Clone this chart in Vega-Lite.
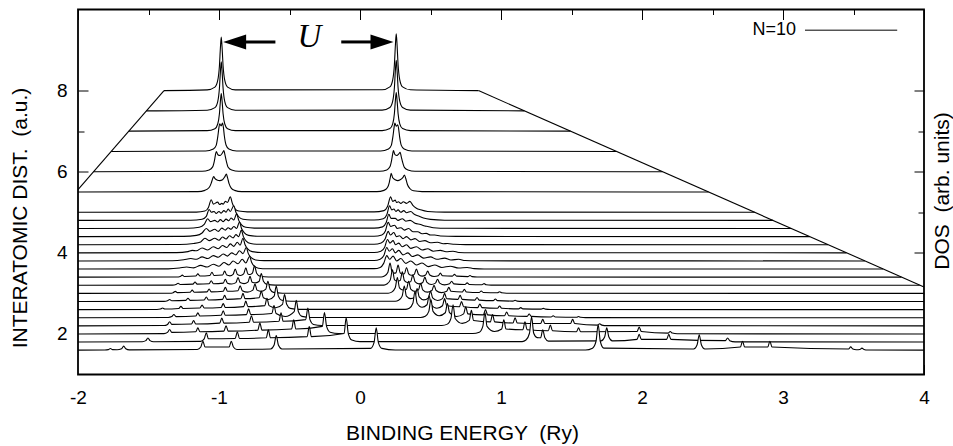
{
"$schema":"https://vega.github.io/schema/vega-lite/v6.json",
"autosize":"none","width":846,"height":365,
"padding":{"left":78,"top":9.5,"right":29,"bottom":71.5},
"background":"white",
"config":{"view":{"stroke":null},"axis":{"zindex":1,"grid":false,"domain":false,"tickColor":"black","tickWidth":1,"labelColor":"black","labelFont":"Liberation Sans","labelFontSize":19,"titleColor":"black","titleFont":"Liberation Sans","titleFontSize":21,"titleFontWeight":"normal"}},
"datasets":{"c":[
{"s":1,"x":-1.39,"y":8},{"s":1,"x":-1.084,"y":8.018},{"s":1,"x":-1.029,"y":8.087},{"s":1,"x":-1.009,"y":8.251},{"s":1,"x":-0.997,"y":8.607},{"s":1,"x":-0.99,"y":9.056},{"s":1,"x":-0.984,"y":9.32},{"s":1,"x":-0.978,"y":9.056},{"s":1,"x":-0.971,"y":8.607},{"s":1,"x":-0.959,"y":8.251},{"s":1,"x":-0.939,"y":8.087},{"s":1,"x":-0.884,"y":8.018},{"s":1,"x":0.157,"y":8.02},{"s":1,"x":0.212,"y":8.092},{"s":1,"x":0.232,"y":8.266},{"s":1,"x":0.244,"y":8.644},{"s":1,"x":0.251,"y":9.12},{"s":1,"x":0.257,"y":9.4},{"s":1,"x":0.263,"y":9.12},{"s":1,"x":0.27,"y":8.644},{"s":1,"x":0.282,"y":8.266},{"s":1,"x":0.302,"y":8.092},{"s":1,"x":0.357,"y":8.02},{"s":1,"x":0.84,"y":8},
{"s":2,"x":-1.515,"y":7.5},{"s":2,"x":-1.084,"y":7.517},{"s":2,"x":-1.029,"y":7.58},{"s":2,"x":-1.009,"y":7.73},{"s":2,"x":-0.997,"y":8.057},{"s":2,"x":-0.99,"y":8.468},{"s":2,"x":-0.984,"y":8.71},{"s":2,"x":-0.978,"y":8.468},{"s":2,"x":-0.971,"y":8.057},{"s":2,"x":-0.959,"y":7.73},{"s":2,"x":-0.939,"y":7.58},{"s":2,"x":-0.884,"y":7.517},{"s":2,"x":0.157,"y":7.518},{"s":2,"x":0.212,"y":7.583},{"s":2,"x":0.232,"y":7.738},{"s":2,"x":0.244,"y":8.075},{"s":2,"x":0.251,"y":8.5},{"s":2,"x":0.257,"y":8.75},{"s":2,"x":0.263,"y":8.5},{"s":2,"x":0.27,"y":8.075},{"s":2,"x":0.282,"y":7.738},{"s":2,"x":0.302,"y":7.583},{"s":2,"x":0.357,"y":7.518},{"s":2,"x":1.166,"y":7.5},
{"s":3,"x":-1.64,"y":7},{"s":3,"x":-1.084,"y":7.013},{"s":3,"x":-1.029,"y":7.061},{"s":3,"x":-1.009,"y":7.177},{"s":3,"x":-0.997,"y":7.428},{"s":3,"x":-0.99,"y":7.744},{"s":3,"x":-0.984,"y":7.93},{"s":3,"x":-0.978,"y":7.744},{"s":3,"x":-0.971,"y":7.428},{"s":3,"x":-0.959,"y":7.177},{"s":3,"x":-0.939,"y":7.061},{"s":3,"x":-0.884,"y":7.013},{"s":3,"x":0.157,"y":7.013},{"s":3,"x":0.212,"y":7.063},{"s":3,"x":0.232,"y":7.181},{"s":3,"x":0.244,"y":7.437},{"s":3,"x":0.251,"y":7.76},{"s":3,"x":0.257,"y":7.95},{"s":3,"x":0.263,"y":7.76},{"s":3,"x":0.27,"y":7.437},{"s":3,"x":0.282,"y":7.181},{"s":3,"x":0.302,"y":7.063},{"s":3,"x":0.357,"y":7.013},{"s":3,"x":1.493,"y":7},
{"s":4,"x":-1.765,"y":6.5},{"s":4,"x":-1.095,"y":6.512},{"s":4,"x":-1.04,"y":6.56},{"s":4,"x":-1.02,"y":6.65},{"s":4,"x":-1.008,"y":6.88},{"s":4,"x":-1.0,"y":7.1},{"s":4,"x":-0.995,"y":7.18},{"s":4,"x":-0.985,"y":7.13},{"s":4,"x":-0.975,"y":7.2},{"s":4,"x":-0.969,"y":7.1},{"s":4,"x":-0.962,"y":6.88},{"s":4,"x":-0.95,"y":6.66},{"s":4,"x":-0.93,"y":6.56},{"s":4,"x":-0.875,"y":6.512},{"s":4,"x":0.147,"y":6.512},{"s":4,"x":0.202,"y":6.56},{"s":4,"x":0.222,"y":6.65},{"s":4,"x":0.234,"y":6.88},{"s":4,"x":0.242,"y":7.1},{"s":4,"x":0.247,"y":7.2},{"s":4,"x":0.257,"y":7.12},{"s":4,"x":0.268,"y":7.16},{"s":4,"x":0.274,"y":7.06},{"s":4,"x":0.281,"y":6.86},{"s":4,"x":0.293,"y":6.65},{"s":4,"x":0.313,"y":6.56},{"s":4,"x":0.368,"y":6.512},{"s":4,"x":1.819,"y":6.5},
{"s":5,"x":-1.89,"y":6},{"s":5,"x":-1.12,"y":6.01},{"s":5,"x":-1.07,"y":6.045},{"s":5,"x":-1.045,"y":6.12},{"s":5,"x":-1.032,"y":6.28},{"s":5,"x":-1.025,"y":6.42},{"s":5,"x":-1.019,"y":6.5},{"s":5,"x":-1.008,"y":6.42},{"s":5,"x":-0.992,"y":6.4},{"s":5,"x":-0.978,"y":6.45},{"s":5,"x":-0.965,"y":6.52},{"s":5,"x":-0.958,"y":6.42},{"s":5,"x":-0.948,"y":6.26},{"s":5,"x":-0.935,"y":6.11},{"s":5,"x":-0.91,"y":6.04},{"s":5,"x":-0.86,"y":6.01},{"s":5,"x":0.14,"y":6.01},{"s":5,"x":0.19,"y":6.045},{"s":5,"x":0.212,"y":6.12},{"s":5,"x":0.224,"y":6.28},{"s":5,"x":0.231,"y":6.42},{"s":5,"x":0.237,"y":6.52},{"s":5,"x":0.248,"y":6.42},{"s":5,"x":0.262,"y":6.4},{"s":5,"x":0.275,"y":6.44},{"s":5,"x":0.285,"y":6.48},{"s":5,"x":0.292,"y":6.38},{"s":5,"x":0.302,"y":6.24},{"s":5,"x":0.316,"y":6.1},{"s":5,"x":0.34,"y":6.04},{"s":5,"x":0.39,"y":6.01},{"s":5,"x":2.145,"y":6},
{"s":6,"x":-2,"y":5.5},{"s":6,"x":-1.15,"y":5.51},{"s":6,"x":-1.1,"y":5.54},{"s":6,"x":-1.07,"y":5.61},{"s":6,"x":-1.055,"y":5.72},{"s":6,"x":-1.045,"y":5.83},{"s":6,"x":-1.038,"y":5.88},{"s":6,"x":-1.028,"y":5.83},{"s":6,"x":-1.01,"y":5.79},{"s":6,"x":-0.995,"y":5.78},{"s":6,"x":-0.975,"y":5.8},{"s":6,"x":-0.958,"y":5.88},{"s":6,"x":-0.948,"y":5.94},{"s":6,"x":-0.94,"y":5.86},{"s":6,"x":-0.928,"y":5.7},{"s":6,"x":-0.912,"y":5.59},{"s":6,"x":-0.89,"y":5.54},{"s":6,"x":-0.84,"y":5.51},{"s":6,"x":0.12,"y":5.51},{"s":6,"x":0.17,"y":5.54},{"s":6,"x":0.195,"y":5.61},{"s":6,"x":0.208,"y":5.74},{"s":6,"x":0.215,"y":5.86},{"s":6,"x":0.221,"y":5.96},{"s":6,"x":0.231,"y":5.86},{"s":6,"x":0.25,"y":5.8},{"s":6,"x":0.268,"y":5.78},{"s":6,"x":0.285,"y":5.8},{"s":6,"x":0.305,"y":5.86},{"s":6,"x":0.315,"y":5.92},{"s":6,"x":0.324,"y":5.84},{"s":6,"x":0.337,"y":5.68},{"s":6,"x":0.355,"y":5.58},{"s":6,"x":0.38,"y":5.53},{"s":6,"x":0.44,"y":5.51},{"s":6,"x":2.472,"y":5.5},
{"s":7,"x":-2,"y":5},{"s":7,"x":-1.16,"y":5.005},{"s":7,"x":-1.1,"y":5.03},{"s":7,"x":-1.075,"y":5.12},{"s":7,"x":-1.055,"y":5.31},{"s":7,"x":-1.04,"y":5.2},{"s":7,"x":-1.01,"y":5.25},{"s":7,"x":-0.995,"y":5.19},{"s":7,"x":-0.98,"y":5.22},{"s":7,"x":-0.97,"y":5.2},{"s":7,"x":-0.955,"y":5.27},{"s":7,"x":-0.94,"y":5.24},{"s":7,"x":-0.92,"y":5.38},{"s":7,"x":-0.905,"y":5.22},{"s":7,"x":-0.89,"y":5.1},{"s":7,"x":-0.86,"y":5.03},{"s":7,"x":-0.8,"y":5.01},{"s":7,"x":0.1,"y":5.01},{"s":7,"x":0.17,"y":5.04},{"s":7,"x":0.195,"y":5.14},{"s":7,"x":0.217,"y":5.38},{"s":7,"x":0.232,"y":5.27},{"s":7,"x":0.25,"y":5.3},{"s":7,"x":0.26,"y":5.24},{"s":7,"x":0.272,"y":5.26},{"s":7,"x":0.29,"y":5.22},{"s":7,"x":0.307,"y":5.26},{"s":7,"x":0.33,"y":5.22},{"s":7,"x":0.354,"y":5.27},{"s":7,"x":0.375,"y":5.17},{"s":7,"x":0.4,"y":5.1},{"s":7,"x":0.43,"y":5.06},{"s":7,"x":0.48,"y":5.02},{"s":7,"x":0.6,"y":5.005},{"s":7,"x":2.8,"y":5},
{"s":8,"x":-2,"y":4.8},{"s":8,"x":-1.2,"y":4.805},{"s":8,"x":-1.12,"y":4.83},{"s":8,"x":-1.09,"y":4.9},{"s":8,"x":-1.07,"y":5.07},{"s":8,"x":-1.055,"y":5.0},{"s":8,"x":-1.035,"y":5.02},{"s":8,"x":-1.02,"y":4.97},{"s":8,"x":-1.0,"y":5.02},{"s":8,"x":-0.985,"y":4.98},{"s":8,"x":-0.965,"y":5.04},{"s":8,"x":-0.95,"y":5.0},{"s":8,"x":-0.935,"y":5.08},{"s":8,"x":-0.92,"y":5.02},{"s":8,"x":-0.895,"y":5.16},{"s":8,"x":-0.88,"y":5.0},{"s":8,"x":-0.86,"y":4.89},{"s":8,"x":-0.83,"y":4.83},{"s":8,"x":-0.77,"y":4.81},{"s":8,"x":0.1,"y":4.81},{"s":8,"x":0.165,"y":4.84},{"s":8,"x":0.19,"y":4.94},{"s":8,"x":0.21,"y":5.16},{"s":8,"x":0.225,"y":5.06},{"s":8,"x":0.24,"y":5.08},{"s":8,"x":0.255,"y":5.02},{"s":8,"x":0.27,"y":5.06},{"s":8,"x":0.29,"y":5.0},{"s":8,"x":0.31,"y":5.04},{"s":8,"x":0.33,"y":4.99},{"s":8,"x":0.36,"y":5.02},{"s":8,"x":0.385,"y":4.95},{"s":8,"x":0.42,"y":4.9},{"s":8,"x":0.45,"y":4.86},{"s":8,"x":0.5,"y":4.825},{"s":8,"x":0.6,"y":4.805},{"s":8,"x":2.93,"y":4.8},
{"s":9,"x":-2,"y":4.6},{"s":9,"x":-1.22,"y":4.605},{"s":9,"x":-1.14,"y":4.63},{"s":9,"x":-1.105,"y":4.7},{"s":9,"x":-1.08,"y":4.84},{"s":9,"x":-1.06,"y":4.77},{"s":9,"x":-1.03,"y":4.8},{"s":9,"x":-1.01,"y":4.76},{"s":9,"x":-0.99,"y":4.82},{"s":9,"x":-0.97,"y":4.77},{"s":9,"x":-0.95,"y":4.83},{"s":9,"x":-0.93,"y":4.79},{"s":9,"x":-0.915,"y":4.86},{"s":9,"x":-0.895,"y":4.81},{"s":9,"x":-0.875,"y":4.96},{"s":9,"x":-0.86,"y":4.8},{"s":9,"x":-0.84,"y":4.69},{"s":9,"x":-0.81,"y":4.63},{"s":9,"x":-0.75,"y":4.61},{"s":9,"x":0.1,"y":4.61},{"s":9,"x":0.16,"y":4.64},{"s":9,"x":0.185,"y":4.74},{"s":9,"x":0.205,"y":4.95},{"s":9,"x":0.22,"y":4.85},{"s":9,"x":0.25,"y":4.85},{"s":9,"x":0.27,"y":4.8},{"s":9,"x":0.3,"y":4.84},{"s":9,"x":0.325,"y":4.78},{"s":9,"x":0.355,"y":4.8},{"s":9,"x":0.39,"y":4.73},{"s":9,"x":0.43,"y":4.7},{"s":9,"x":0.46,"y":4.66},{"s":9,"x":0.48,"y":4.65},{"s":9,"x":0.52,"y":4.62},{"s":9,"x":0.62,"y":4.605},{"s":9,"x":3.06,"y":4.6},
{"s":10,"x":-2,"y":4.4},{"s":10,"x":-1.25,"y":4.405},{"s":10,"x":-1.16,"y":4.43},{"s":10,"x":-1.12,"y":4.49},{"s":10,"x":-1.09,"y":4.6},{"s":10,"x":-1.065,"y":4.53},{"s":10,"x":-1.03,"y":4.58},{"s":10,"x":-1.005,"y":4.53},{"s":10,"x":-0.98,"y":4.61},{"s":10,"x":-0.955,"y":4.56},{"s":10,"x":-0.935,"y":4.62},{"s":10,"x":-0.915,"y":4.58},{"s":10,"x":-0.895,"y":4.65},{"s":10,"x":-0.875,"y":4.6},{"s":10,"x":-0.855,"y":4.76},{"s":10,"x":-0.84,"y":4.6},{"s":10,"x":-0.82,"y":4.49},{"s":10,"x":-0.79,"y":4.43},{"s":10,"x":-0.73,"y":4.41},{"s":10,"x":0.1,"y":4.41},{"s":10,"x":0.155,"y":4.44},{"s":10,"x":0.18,"y":4.54},{"s":10,"x":0.2,"y":4.75},{"s":10,"x":0.218,"y":4.65},{"s":10,"x":0.245,"y":4.68},{"s":10,"x":0.265,"y":4.6},{"s":10,"x":0.29,"y":4.62},{"s":10,"x":0.315,"y":4.56},{"s":10,"x":0.345,"y":4.6},{"s":10,"x":0.375,"y":4.52},{"s":10,"x":0.41,"y":4.52},{"s":10,"x":0.44,"y":4.47},{"s":10,"x":0.47,"y":4.48},{"s":10,"x":0.5,"y":4.44},{"s":10,"x":0.53,"y":4.44},{"s":10,"x":0.57,"y":4.415},{"s":10,"x":0.68,"y":4.405},{"s":10,"x":3.19,"y":4.4},
{"s":11,"x":-2,"y":4.2},{"s":11,"x":-1.28,"y":4.205},{"s":11,"x":-1.18,"y":4.23},{"s":11,"x":-1.13,"y":4.27},{"s":11,"x":-1.1,"y":4.36},{"s":11,"x":-1.07,"y":4.3},{"s":11,"x":-1.03,"y":4.36},{"s":11,"x":-1.0,"y":4.31},{"s":11,"x":-0.975,"y":4.39},{"s":11,"x":-0.95,"y":4.34},{"s":11,"x":-0.925,"y":4.42},{"s":11,"x":-0.9,"y":4.37},{"s":11,"x":-0.88,"y":4.45},{"s":11,"x":-0.86,"y":4.4},{"s":11,"x":-0.842,"y":4.56},{"s":11,"x":-0.827,"y":4.4},{"s":11,"x":-0.807,"y":4.29},{"s":11,"x":-0.775,"y":4.23},{"s":11,"x":-0.72,"y":4.21},{"s":11,"x":0.1,"y":4.21},{"s":11,"x":0.15,"y":4.24},{"s":11,"x":0.178,"y":4.34},{"s":11,"x":0.2,"y":4.53},{"s":11,"x":0.215,"y":4.44},{"s":11,"x":0.24,"y":4.5},{"s":11,"x":0.258,"y":4.4},{"s":11,"x":0.28,"y":4.42},{"s":11,"x":0.305,"y":4.35},{"s":11,"x":0.33,"y":4.4},{"s":11,"x":0.36,"y":4.32},{"s":11,"x":0.39,"y":4.35},{"s":11,"x":0.425,"y":4.28},{"s":11,"x":0.46,"y":4.3},{"s":11,"x":0.5,"y":4.25},{"s":11,"x":0.55,"y":4.26},{"s":11,"x":0.59,"y":4.225},{"s":11,"x":0.62,"y":4.23},{"s":11,"x":0.67,"y":4.21},{"s":11,"x":0.75,"y":4.203},{"s":11,"x":3.32,"y":4.2},
{"s":12,"x":-2,"y":4},{"s":12,"x":-1.3,"y":4.005},{"s":12,"x":-1.22,"y":4.03},{"s":12,"x":-1.19,"y":4.06},{"s":12,"x":-1.16,"y":4.05},{"s":12,"x":-1.12,"y":4.12},{"s":12,"x":-1.08,"y":4.07},{"s":12,"x":-1.04,"y":4.15},{"s":12,"x":-1.005,"y":4.1},{"s":12,"x":-0.975,"y":4.18},{"s":12,"x":-0.945,"y":4.13},{"s":12,"x":-0.92,"y":4.22},{"s":12,"x":-0.895,"y":4.16},{"s":12,"x":-0.87,"y":4.26},{"s":12,"x":-0.85,"y":4.19},{"s":12,"x":-0.83,"y":4.36},{"s":12,"x":-0.815,"y":4.2},{"s":12,"x":-0.795,"y":4.09},{"s":12,"x":-0.765,"y":4.03},{"s":12,"x":-0.7,"y":4.01},{"s":12,"x":0.1,"y":4.01},{"s":12,"x":0.148,"y":4.04},{"s":12,"x":0.175,"y":4.14},{"s":12,"x":0.195,"y":4.33},{"s":12,"x":0.212,"y":4.24},{"s":12,"x":0.235,"y":4.3},{"s":12,"x":0.252,"y":4.2},{"s":12,"x":0.275,"y":4.24},{"s":12,"x":0.3,"y":4.15},{"s":12,"x":0.33,"y":4.2},{"s":12,"x":0.36,"y":4.11},{"s":12,"x":0.4,"y":4.15},{"s":12,"x":0.44,"y":4.07},{"s":12,"x":0.48,"y":4.1},{"s":12,"x":0.52,"y":4.04},{"s":12,"x":0.57,"y":4.06},{"s":12,"x":0.61,"y":4.025},{"s":12,"x":0.66,"y":4.04},{"s":12,"x":0.7,"y":4.01},{"s":12,"x":0.78,"y":4.003},{"s":12,"x":3.45,"y":4},
{"s":13,"x":-2,"y":3.8},{"s":13,"x":-1.33,"y":3.805},{"s":13,"x":-1.25,"y":3.83},{"s":13,"x":-1.2,"y":3.86},{"s":13,"x":-1.16,"y":3.84},{"s":13,"x":-1.12,"y":3.9},{"s":13,"x":-1.08,"y":3.86},{"s":13,"x":-1.04,"y":3.93},{"s":13,"x":-1.005,"y":3.89},{"s":13,"x":-0.97,"y":3.97},{"s":13,"x":-0.94,"y":3.92},{"s":13,"x":-0.91,"y":4.0},{"s":13,"x":-0.88,"y":3.95},{"s":13,"x":-0.855,"y":4.05},{"s":13,"x":-0.83,"y":3.98},{"s":13,"x":-0.807,"y":4.13},{"s":13,"x":-0.792,"y":3.98},{"s":13,"x":-0.772,"y":3.88},{"s":13,"x":-0.74,"y":3.825},{"s":13,"x":-0.68,"y":3.808},{"s":13,"x":0.1,"y":3.81},{"s":13,"x":0.143,"y":3.84},{"s":13,"x":0.17,"y":3.94},{"s":13,"x":0.19,"y":4.13},{"s":13,"x":0.207,"y":4.04},{"s":13,"x":0.23,"y":4.1},{"s":13,"x":0.25,"y":4.0},{"s":13,"x":0.275,"y":4.06},{"s":13,"x":0.305,"y":3.95},{"s":13,"x":0.34,"y":4.0},{"s":13,"x":0.37,"y":3.91},{"s":13,"x":0.41,"y":3.95},{"s":13,"x":0.45,"y":3.87},{"s":13,"x":0.5,"y":3.9},{"s":13,"x":0.545,"y":3.84},{"s":13,"x":0.6,"y":3.87},{"s":13,"x":0.645,"y":3.825},{"s":13,"x":0.7,"y":3.84},{"s":13,"x":0.745,"y":3.81},{"s":13,"x":0.82,"y":3.803},{"s":13,"x":3.58,"y":3.8},
{"s":14,"x":-2,"y":3.6},{"s":14,"x":-1.36,"y":3.605},{"s":14,"x":-1.28,"y":3.625},{"s":14,"x":-1.23,"y":3.65},{"s":14,"x":-1.18,"y":3.63},{"s":14,"x":-1.13,"y":3.69},{"s":14,"x":-1.085,"y":3.65},{"s":14,"x":-1.04,"y":3.72},{"s":14,"x":-1.0,"y":3.67},{"s":14,"x":-0.965,"y":3.76},{"s":14,"x":-0.93,"y":3.7},{"s":14,"x":-0.9,"y":3.8},{"s":14,"x":-0.865,"y":3.73},{"s":14,"x":-0.835,"y":3.84},{"s":14,"x":-0.81,"y":3.75},{"s":14,"x":-0.783,"y":3.91},{"s":14,"x":-0.768,"y":3.76},{"s":14,"x":-0.75,"y":3.67},{"s":14,"x":-0.72,"y":3.62},{"s":14,"x":-0.66,"y":3.606},{"s":14,"x":0.1,"y":3.61},{"s":14,"x":0.143,"y":3.64},{"s":14,"x":0.168,"y":3.74},{"s":14,"x":0.19,"y":3.93},{"s":14,"x":0.21,"y":3.84},{"s":14,"x":0.235,"y":3.92},{"s":14,"x":0.26,"y":3.8},{"s":14,"x":0.29,"y":3.86},{"s":14,"x":0.325,"y":3.74},{"s":14,"x":0.36,"y":3.8},{"s":14,"x":0.4,"y":3.7},{"s":14,"x":0.44,"y":3.75},{"s":14,"x":0.485,"y":3.66},{"s":14,"x":0.53,"y":3.7},{"s":14,"x":0.58,"y":3.64},{"s":14,"x":0.64,"y":3.67},{"s":14,"x":0.7,"y":3.625},{"s":14,"x":0.76,"y":3.64},{"s":14,"x":0.81,"y":3.61},{"s":14,"x":0.88,"y":3.603},{"s":14,"x":3.71,"y":3.6},
{"s":15,"x":-2,"y":3.4},{"s":15,"x":-1.3,"y":3.404},{"s":15,"x":-1.275,"y":3.418},{"s":15,"x":-1.26,"y":3.45},{"s":15,"x":-1.245,"y":3.418},{"s":15,"x":-1.165,"y":3.428},{"s":15,"x":-1.15,"y":3.48},{"s":15,"x":-1.135,"y":3.428},{"s":15,"x":-1.065,"y":3.442},{"s":15,"x":-1.05,"y":3.52},{"s":15,"x":-1.035,"y":3.442},{"s":15,"x":-0.975,"y":3.452},{"s":15,"x":-0.96,"y":3.55},{"s":15,"x":-0.945,"y":3.452},{"s":15,"x":-0.9225,"y":3.433},{"s":15,"x":-0.9,"y":3.47},{"s":15,"x":-0.885,"y":3.6},{"s":15,"x":-0.87,"y":3.47},{"s":15,"x":-0.8475,"y":3.44},{"s":15,"x":-0.825,"y":3.48},{"s":15,"x":-0.81,"y":3.63},{"s":15,"x":-0.795,"y":3.48},{"s":15,"x":-0.779,"y":3.466},{"s":15,"x":-0.763,"y":3.498},{"s":15,"x":-0.748,"y":3.68},{"s":15,"x":-0.733,"y":3.498},{"s":15,"x":-0.708,"y":3.422},{"s":15,"x":-0.65,"y":3.405},{"s":15,"x":0.15,"y":3.405},{"s":15,"x":0.173,"y":3.428},{"s":15,"x":0.198,"y":3.523},{"s":15,"x":0.213,"y":3.75},{"s":15,"x":0.228,"y":3.523},{"s":15,"x":0.2415,"y":3.5},{"s":15,"x":0.255,"y":3.505},{"s":15,"x":0.27,"y":3.7},{"s":15,"x":0.285,"y":3.505},{"s":15,"x":0.3,"y":3.475},{"s":15,"x":0.315,"y":3.484},{"s":15,"x":0.33,"y":3.64},{"s":15,"x":0.345,"y":3.484},{"s":15,"x":0.365,"y":3.446},{"s":15,"x":0.385,"y":3.47},{"s":15,"x":0.4,"y":3.6},{"s":15,"x":0.415,"y":3.47},{"s":15,"x":0.44,"y":3.425},{"s":15,"x":0.465,"y":3.452},{"s":15,"x":0.48,"y":3.55},{"s":15,"x":0.495,"y":3.452},{"s":15,"x":0.525,"y":3.416},{"s":15,"x":0.555,"y":3.435},{"s":15,"x":0.57,"y":3.5},{"s":15,"x":0.585,"y":3.435},{"s":15,"x":0.655,"y":3.425},{"s":15,"x":0.67,"y":3.47},{"s":15,"x":0.685,"y":3.425},{"s":15,"x":0.765,"y":3.414},{"s":15,"x":0.78,"y":3.44},{"s":15,"x":0.795,"y":3.414},{"s":15,"x":0.83,"y":3.403},{"s":15,"x":3.84,"y":3.4},
{"s":16,"x":-2,"y":3.2},{"s":16,"x":-1.33,"y":3.204},{"s":16,"x":-1.305,"y":3.218},{"s":16,"x":-1.29,"y":3.25},{"s":16,"x":-1.275,"y":3.218},{"s":16,"x":-1.185,"y":3.228},{"s":16,"x":-1.17,"y":3.28},{"s":16,"x":-1.155,"y":3.228},{"s":16,"x":-1.07,"y":3.238},{"s":16,"x":-1.055,"y":3.31},{"s":16,"x":-1.04,"y":3.238},{"s":16,"x":-0.97,"y":3.252},{"s":16,"x":-0.955,"y":3.35},{"s":16,"x":-0.94,"y":3.252},{"s":16,"x":-0.91,"y":3.232},{"s":16,"x":-0.88,"y":3.266},{"s":16,"x":-0.865,"y":3.39},{"s":16,"x":-0.85,"y":3.266},{"s":16,"x":-0.8225,"y":3.24},{"s":16,"x":-0.795,"y":3.277},{"s":16,"x":-0.78,"y":3.42},{"s":16,"x":-0.765,"y":3.277},{"s":16,"x":-0.74,"y":3.26},{"s":16,"x":-0.715,"y":3.3},{"s":16,"x":-0.7,"y":3.49},{"s":16,"x":-0.685,"y":3.3},{"s":16,"x":-0.66,"y":3.223},{"s":16,"x":-0.6,"y":3.205},{"s":16,"x":0.17,"y":3.205},{"s":16,"x":0.19,"y":3.23},{"s":16,"x":0.215,"y":3.333},{"s":16,"x":0.23,"y":3.58},{"s":16,"x":0.245,"y":3.333},{"s":16,"x":0.265,"y":3.3},{"s":16,"x":0.285,"y":3.315},{"s":16,"x":0.3,"y":3.53},{"s":16,"x":0.315,"y":3.315},{"s":16,"x":0.3375,"y":3.27},{"s":16,"x":0.36,"y":3.29},{"s":16,"x":0.375,"y":3.46},{"s":16,"x":0.39,"y":3.29},{"s":16,"x":0.4175,"y":3.235},{"s":16,"x":0.445,"y":3.27},{"s":16,"x":0.46,"y":3.4},{"s":16,"x":0.475,"y":3.27},{"s":16,"x":0.505,"y":3.22},{"s":16,"x":0.535,"y":3.253},{"s":16,"x":0.55,"y":3.35},{"s":16,"x":0.565,"y":3.253},{"s":16,"x":0.6,"y":3.21},{"s":16,"x":0.635,"y":3.235},{"s":16,"x":0.65,"y":3.3},{"s":16,"x":0.665,"y":3.235},{"s":16,"x":0.745,"y":3.221},{"s":16,"x":0.76,"y":3.26},{"s":16,"x":0.775,"y":3.221},{"s":16,"x":0.865,"y":3.214},{"s":16,"x":0.88,"y":3.24},{"s":16,"x":0.895,"y":3.214},{"s":16,"x":0.93,"y":3.203},{"s":16,"x":3.97,"y":3.2},
{"s":17,"x":-2,"y":3},{"s":17,"x":-1.35,"y":3.004},{"s":17,"x":-1.325,"y":3.018},{"s":17,"x":-1.31,"y":3.05},{"s":17,"x":-1.295,"y":3.018},{"s":17,"x":-1.205,"y":3.028},{"s":17,"x":-1.19,"y":3.08},{"s":17,"x":-1.175,"y":3.028},{"s":17,"x":-1.085,"y":3.038},{"s":17,"x":-1.07,"y":3.11},{"s":17,"x":-1.055,"y":3.038},{"s":17,"x":-0.97,"y":3.052},{"s":17,"x":-0.955,"y":3.15},{"s":17,"x":-0.94,"y":3.052},{"s":17,"x":-0.865,"y":3.066},{"s":17,"x":-0.85,"y":3.19},{"s":17,"x":-0.835,"y":3.066},{"s":17,"x":-0.7975,"y":3.03},{"s":17,"x":-0.76,"y":3.08},{"s":17,"x":-0.745,"y":3.23},{"s":17,"x":-0.73,"y":3.08},{"s":17,"x":-0.7,"y":3.05},{"s":17,"x":-0.668,"y":3.105},{"s":17,"x":-0.653,"y":3.3},{"s":17,"x":-0.638,"y":3.105},{"s":17,"x":-0.613,"y":3.024},{"s":17,"x":-0.55,"y":3.005},{"s":17,"x":0.2,"y":3.005},{"s":17,"x":0.225,"y":3.031},{"s":17,"x":0.25,"y":3.137},{"s":17,"x":0.265,"y":3.39},{"s":17,"x":0.28,"y":3.137},{"s":17,"x":0.305,"y":3.085},{"s":17,"x":0.33,"y":3.105},{"s":17,"x":0.345,"y":3.3},{"s":17,"x":0.36,"y":3.105},{"s":17,"x":0.3875,"y":3.05},{"s":17,"x":0.415,"y":3.088},{"s":17,"x":0.43,"y":3.25},{"s":17,"x":0.445,"y":3.088},{"s":17,"x":0.4775,"y":3.03},{"s":17,"x":0.51,"y":3.07},{"s":17,"x":0.525,"y":3.2},{"s":17,"x":0.54,"y":3.07},{"s":17,"x":0.5775,"y":3.018},{"s":17,"x":0.615,"y":3.053},{"s":17,"x":0.63,"y":3.15},{"s":17,"x":0.645,"y":3.053},{"s":17,"x":0.725,"y":3.035},{"s":17,"x":0.74,"y":3.1},{"s":17,"x":0.755,"y":3.035},{"s":17,"x":0.845,"y":3.021},{"s":17,"x":0.86,"y":3.06},{"s":17,"x":0.875,"y":3.021},{"s":17,"x":0.975,"y":3.014},{"s":17,"x":0.99,"y":3.04},{"s":17,"x":1.005,"y":3.014},{"s":17,"x":1.04,"y":3.003},{"s":17,"x":4,"y":3},
{"s":18,"x":-2,"y":2.8},{"s":18,"x":-1.39,"y":2.804},{"s":18,"x":-1.365,"y":2.818},{"s":18,"x":-1.35,"y":2.85},{"s":18,"x":-1.335,"y":2.818},{"s":18,"x":-1.235,"y":2.828},{"s":18,"x":-1.22,"y":2.88},{"s":18,"x":-1.205,"y":2.828},{"s":18,"x":-1.105,"y":2.838},{"s":18,"x":-1.09,"y":2.91},{"s":18,"x":-1.075,"y":2.838},{"s":18,"x":-0.975,"y":2.852},{"s":18,"x":-0.96,"y":2.95},{"s":18,"x":-0.945,"y":2.852},{"s":18,"x":-0.845,"y":2.87},{"s":18,"x":-0.83,"y":3.0},{"s":18,"x":-0.815,"y":2.87},{"s":18,"x":-0.715,"y":2.891},{"s":18,"x":-0.7,"y":3.06},{"s":18,"x":-0.685,"y":2.891},{"s":18,"x":-0.647,"y":2.85},{"s":18,"x":-0.609,"y":2.933},{"s":18,"x":-0.594,"y":3.18},{"s":18,"x":-0.579,"y":2.933},{"s":18,"x":-0.554,"y":2.83},{"s":18,"x":-0.49,"y":2.806},{"s":18,"x":0.25,"y":2.806},{"s":18,"x":0.274,"y":2.83},{"s":18,"x":0.299,"y":2.933},{"s":18,"x":0.314,"y":3.18},{"s":18,"x":0.329,"y":2.933},{"s":18,"x":0.36,"y":2.87},{"s":18,"x":0.39,"y":2.912},{"s":18,"x":0.405,"y":3.12},{"s":18,"x":0.42,"y":2.912},{"s":18,"x":0.4525,"y":2.84},{"s":18,"x":0.485,"y":2.891},{"s":18,"x":0.5,"y":3.06},{"s":18,"x":0.515,"y":2.891},{"s":18,"x":0.55,"y":2.826},{"s":18,"x":0.585,"y":2.87},{"s":18,"x":0.6,"y":3.0},{"s":18,"x":0.615,"y":2.87},{"s":18,"x":0.695,"y":2.853},{"s":18,"x":0.71,"y":2.95},{"s":18,"x":0.725,"y":2.853},{"s":18,"x":0.815,"y":2.835},{"s":18,"x":0.83,"y":2.9},{"s":18,"x":0.845,"y":2.835},{"s":18,"x":0.945,"y":2.821},{"s":18,"x":0.96,"y":2.86},{"s":18,"x":0.975,"y":2.821},{"s":18,"x":1.085,"y":2.81},{"s":18,"x":1.1,"y":2.83},{"s":18,"x":1.115,"y":2.81},{"s":18,"x":1.15,"y":2.802},{"s":18,"x":4,"y":2.8},
{"s":19,"x":-2,"y":2.6},{"s":19,"x":-1.44,"y":2.603},{"s":19,"x":-1.415,"y":2.614},{"s":19,"x":-1.4,"y":2.64},{"s":19,"x":-1.385,"y":2.614},{"s":19,"x":-1.285,"y":2.628},{"s":19,"x":-1.27,"y":2.68},{"s":19,"x":-1.255,"y":2.628},{"s":19,"x":-1.135,"y":2.638},{"s":19,"x":-1.12,"y":2.71},{"s":19,"x":-1.105,"y":2.638},{"s":19,"x":-0.985,"y":2.652},{"s":19,"x":-0.97,"y":2.75},{"s":19,"x":-0.955,"y":2.652},{"s":19,"x":-0.825,"y":2.674},{"s":19,"x":-0.81,"y":2.81},{"s":19,"x":-0.795,"y":2.674},{"s":19,"x":-0.675,"y":2.698},{"s":19,"x":-0.66,"y":2.88},{"s":19,"x":-0.645,"y":2.698},{"s":19,"x":-0.5975,"y":2.645},{"s":19,"x":-0.55,"y":2.73},{"s":19,"x":-0.535,"y":2.97},{"s":19,"x":-0.52,"y":2.73},{"s":19,"x":-0.495,"y":2.63},{"s":19,"x":-0.43,"y":2.606},{"s":19,"x":0.32,"y":2.606},{"s":19,"x":0.35,"y":2.636},{"s":19,"x":0.375,"y":2.758},{"s":19,"x":0.39,"y":3.05},{"s":19,"x":0.405,"y":2.758},{"s":19,"x":0.44,"y":2.66},{"s":19,"x":0.475,"y":2.72},{"s":19,"x":0.49,"y":2.94},{"s":19,"x":0.505,"y":2.72},{"s":19,"x":0.545,"y":2.632},{"s":19,"x":0.585,"y":2.695},{"s":19,"x":0.6,"y":2.87},{"s":19,"x":0.615,"y":2.695},{"s":19,"x":0.705,"y":2.67},{"s":19,"x":0.72,"y":2.8},{"s":19,"x":0.735,"y":2.67},{"s":19,"x":0.835,"y":2.649},{"s":19,"x":0.85,"y":2.74},{"s":19,"x":0.865,"y":2.649},{"s":19,"x":0.975,"y":2.632},{"s":19,"x":0.99,"y":2.69},{"s":19,"x":1.005,"y":2.632},{"s":19,"x":1.125,"y":2.618},{"s":19,"x":1.14,"y":2.65},{"s":19,"x":1.155,"y":2.618},{"s":19,"x":1.285,"y":2.611},{"s":19,"x":1.3,"y":2.63},{"s":19,"x":1.315,"y":2.611},{"s":19,"x":1.35,"y":2.602},{"s":19,"x":4,"y":2.6},
{"s":20,"x":-2,"y":2.4},{"s":20,"x":-1.36,"y":2.406},{"s":20,"x":-1.335,"y":2.428},{"s":20,"x":-1.32,"y":2.48},{"s":20,"x":-1.305,"y":2.428},{"s":20,"x":-1.165,"y":2.442},{"s":20,"x":-1.15,"y":2.52},{"s":20,"x":-1.135,"y":2.442},{"s":20,"x":-0.985,"y":2.46},{"s":20,"x":-0.97,"y":2.57},{"s":20,"x":-0.955,"y":2.46},{"s":20,"x":-0.805,"y":2.477},{"s":20,"x":-0.79,"y":2.62},{"s":20,"x":-0.775,"y":2.477},{"s":20,"x":-0.625,"y":2.505},{"s":20,"x":-0.61,"y":2.7},{"s":20,"x":-0.595,"y":2.505},{"s":20,"x":-0.531,"y":2.43},{"s":20,"x":-0.467,"y":2.55},{"s":20,"x":-0.452,"y":2.83},{"s":20,"x":-0.437,"y":2.55},{"s":20,"x":-0.412,"y":2.434},{"s":20,"x":-0.35,"y":2.407},{"s":20,"x":0.43,"y":2.407},{"s":20,"x":0.463,"y":2.436},{"s":20,"x":0.488,"y":2.558},{"s":20,"x":0.503,"y":2.85},{"s":20,"x":0.518,"y":2.558},{"s":20,"x":0.5615,"y":2.45},{"s":20,"x":0.605,"y":2.523},{"s":20,"x":0.62,"y":2.75},{"s":20,"x":0.635,"y":2.523},{"s":20,"x":0.685,"y":2.43},{"s":20,"x":0.735,"y":2.495},{"s":20,"x":0.75,"y":2.67},{"s":20,"x":0.765,"y":2.495},{"s":20,"x":0.875,"y":2.47},{"s":20,"x":0.89,"y":2.6},{"s":20,"x":0.905,"y":2.47},{"s":20,"x":1.025,"y":2.449},{"s":20,"x":1.04,"y":2.54},{"s":20,"x":1.055,"y":2.449},{"s":20,"x":1.185,"y":2.432},{"s":20,"x":1.2,"y":2.49},{"s":20,"x":1.215,"y":2.432},{"s":20,"x":1.355,"y":2.418},{"s":20,"x":1.37,"y":2.45},{"s":20,"x":1.385,"y":2.418},{"s":20,"x":1.535,"y":2.41},{"s":20,"x":1.55,"y":2.43},{"s":20,"x":1.565,"y":2.41},{"s":20,"x":1.6,"y":2.402},{"s":20,"x":4,"y":2.4},
{"s":21,"x":-2,"y":2.2},{"s":21,"x":-1.39,"y":2.208},{"s":21,"x":-1.365,"y":2.235},{"s":21,"x":-1.35,"y":2.3},{"s":21,"x":-1.335,"y":2.235},{"s":21,"x":-1.195,"y":2.245},{"s":21,"x":-1.18,"y":2.33},{"s":21,"x":-1.165,"y":2.245},{"s":21,"x":-0.995,"y":2.267},{"s":21,"x":-0.98,"y":2.39},{"s":21,"x":-0.965,"y":2.267},{"s":21,"x":-0.785,"y":2.288},{"s":21,"x":-0.77,"y":2.45},{"s":21,"x":-0.755,"y":2.288},{"s":21,"x":-0.575,"y":2.312},{"s":21,"x":-0.56,"y":2.52},{"s":21,"x":-0.545,"y":2.312},{"s":21,"x":-0.385,"y":2.354},{"s":21,"x":-0.37,"y":2.64},{"s":21,"x":-0.355,"y":2.354},{"s":21,"x":-0.33,"y":2.235},{"s":21,"x":-0.27,"y":2.207},{"s":21,"x":0.58,"y":2.207},{"s":21,"x":0.62,"y":2.242},{"s":21,"x":0.645,"y":2.382},{"s":21,"x":0.66,"y":2.72},{"s":21,"x":0.675,"y":2.382},{"s":21,"x":0.725,"y":2.26},{"s":21,"x":0.775,"y":2.333},{"s":21,"x":0.79,"y":2.58},{"s":21,"x":0.805,"y":2.333},{"s":21,"x":0.925,"y":2.298},{"s":21,"x":0.94,"y":2.48},{"s":21,"x":0.955,"y":2.298},{"s":21,"x":1.085,"y":2.27},{"s":21,"x":1.1,"y":2.4},{"s":21,"x":1.115,"y":2.27},{"s":21,"x":1.281,"y":2.256},{"s":21,"x":1.296,"y":2.36},{"s":21,"x":1.311,"y":2.256},{"s":21,"x":1.493,"y":2.256},{"s":21,"x":1.508,"y":2.36},{"s":21,"x":1.523,"y":2.256},{"s":21,"x":1.685,"y":2.218},{"s":21,"x":1.7,"y":2.25},{"s":21,"x":1.715,"y":2.218},{"s":21,"x":1.75,"y":2.204},{"s":21,"x":4,"y":2.2},
{"s":22,"x":-2,"y":2},{"s":22,"x":-1.39,"y":2.009},{"s":22,"x":-1.365,"y":2.039},{"s":22,"x":-1.35,"y":2.11},{"s":22,"x":-1.335,"y":2.039},{"s":22,"x":-1.165,"y":2.053},{"s":22,"x":-1.15,"y":2.15},{"s":22,"x":-1.135,"y":2.053},{"s":22,"x":-0.965,"y":2.07},{"s":22,"x":-0.95,"y":2.2},{"s":22,"x":-0.935,"y":2.07},{"s":22,"x":-0.725,"y":2.095},{"s":22,"x":-0.71,"y":2.27},{"s":22,"x":-0.695,"y":2.095},{"s":22,"x":-0.485,"y":2.123},{"s":22,"x":-0.47,"y":2.35},{"s":22,"x":-0.455,"y":2.123},{"s":22,"x":-0.267,"y":2.186},{"s":22,"x":-0.252,"y":2.53},{"s":22,"x":-0.237,"y":2.186},{"s":22,"x":-0.212,"y":2.042},{"s":22,"x":-0.15,"y":2.01},{"s":22,"x":0.8,"y":2.01},{"s":22,"x":0.846,"y":2.042},{"s":22,"x":0.871,"y":2.186},{"s":22,"x":0.886,"y":2.53},{"s":22,"x":0.901,"y":2.186},{"s":22,"x":0.953,"y":2.06},{"s":22,"x":1.005,"y":2.123},{"s":22,"x":1.02,"y":2.35},{"s":22,"x":1.035,"y":2.123},{"s":22,"x":1.155,"y":2.105},{"s":22,"x":1.17,"y":2.3},{"s":22,"x":1.185,"y":2.105},{"s":22,"x":1.335,"y":2.077},{"s":22,"x":1.35,"y":2.22},{"s":22,"x":1.365,"y":2.077},{"s":22,"x":1.535,"y":2.053},{"s":22,"x":1.55,"y":2.15},{"s":22,"x":1.565,"y":2.053},{"s":22,"x":1.965,"y":2.06},{"s":22,"x":1.98,"y":2.17},{"s":22,"x":1.995,"y":2.06},{"s":22,"x":2.185,"y":2.021},{"s":22,"x":2.2,"y":2.06},{"s":22,"x":2.215,"y":2.021},{"s":22,"x":2.25,"y":2.004},{"s":22,"x":4,"y":2},
{"s":23,"x":-2,"y":1.8},{"s":23,"x":-1.544,"y":1.808},{"s":23,"x":-1.519,"y":1.835},{"s":23,"x":-1.504,"y":1.9},{"s":23,"x":-1.489,"y":1.835},{"s":23,"x":-1.464,"y":1.808},{"s":23,"x":-1.13,"y":1.818},{"s":23,"x":-1.105,"y":1.88},{"s":23,"x":-1.09,"y":2.03},{"s":23,"x":-1.075,"y":1.88},{"s":23,"x":-0.885,"y":1.888},{"s":23,"x":-0.87,"y":2.05},{"s":23,"x":-0.855,"y":1.888},{"s":23,"x":-0.665,"y":1.905},{"s":23,"x":-0.65,"y":2.1},{"s":23,"x":-0.635,"y":1.905},{"s":23,"x":-0.375,"y":1.933},{"s":23,"x":-0.36,"y":2.18},{"s":23,"x":-0.345,"y":1.933},{"s":23,"x":-0.113,"y":2.01},{"s":23,"x":-0.098,"y":2.4},{"s":23,"x":-0.083,"y":2.01},{"s":23,"x":-0.058,"y":1.848},{"s":23,"x":0.0,"y":1.81},{"s":23,"x":1.15,"y":1.81},{"s":23,"x":1.177,"y":1.85},{"s":23,"x":1.202,"y":2.017},{"s":23,"x":1.217,"y":2.42},{"s":23,"x":1.232,"y":2.017},{"s":23,"x":1.2565,"y":1.91},{"s":23,"x":1.281,"y":1.905},{"s":23,"x":1.296,"y":2.1},{"s":23,"x":1.311,"y":1.905},{"s":23,"x":1.336,"y":1.824},{"s":23,"x":1.71,"y":1.828},{"s":23,"x":1.735,"y":1.923},{"s":23,"x":1.75,"y":2.15},{"s":23,"x":1.765,"y":1.923},{"s":23,"x":1.79,"y":1.828},{"s":23,"x":1.965,"y":1.867},{"s":23,"x":1.98,"y":1.99},{"s":23,"x":1.995,"y":1.867},{"s":23,"x":2.175,"y":1.867},{"s":23,"x":2.19,"y":1.99},{"s":23,"x":2.205,"y":1.867},{"s":23,"x":2.592,"y":1.835},{"s":23,"x":2.607,"y":1.9},{"s":23,"x":2.622,"y":1.835},{"s":23,"x":2.66,"y":1.805},{"s":23,"x":4,"y":1.8},
{"s":24,"x":-2,"y":1.6},{"s":24,"x":-1.81,"y":1.603},{"s":24,"x":-1.785,"y":1.614},{"s":24,"x":-1.77,"y":1.64},{"s":24,"x":-1.755,"y":1.614},{"s":24,"x":-1.723,"y":1.61},{"s":24,"x":-1.691,"y":1.635},{"s":24,"x":-1.676,"y":1.7},{"s":24,"x":-1.661,"y":1.635},{"s":24,"x":-1.636,"y":1.608},{"s":24,"x":-1.154,"y":1.618},{"s":24,"x":-1.129,"y":1.677},{"s":24,"x":-1.114,"y":1.82},{"s":24,"x":-1.099,"y":1.677},{"s":24,"x":-0.928,"y":1.677},{"s":24,"x":-0.913,"y":1.82},{"s":24,"x":-0.898,"y":1.677},{"s":24,"x":-0.873,"y":1.618},{"s":24,"x":-0.634,"y":1.629},{"s":24,"x":-0.609,"y":1.726},{"s":24,"x":-0.594,"y":1.96},{"s":24,"x":-0.579,"y":1.726},{"s":24,"x":-0.554,"y":1.629},{"s":24,"x":0.075,"y":1.644},{"s":24,"x":0.1,"y":1.793},{"s":24,"x":0.115,"y":2.15},{"s":24,"x":0.13,"y":1.793},{"s":24,"x":0.155,"y":1.644},{"s":24,"x":0.25,"y":1.605},{"s":24,"x":1.6,"y":1.605},{"s":24,"x":1.649,"y":1.65},{"s":24,"x":1.674,"y":1.82},{"s":24,"x":1.689,"y":2.23},{"s":24,"x":1.704,"y":1.82},{"s":24,"x":1.729,"y":1.65},{"s":24,"x":2.366,"y":1.63},{"s":24,"x":2.391,"y":1.733},{"s":24,"x":2.406,"y":1.98},{"s":24,"x":2.421,"y":1.733},{"s":24,"x":2.446,"y":1.63},{"s":24,"x":2.698,"y":1.677},{"s":24,"x":2.713,"y":1.82},{"s":24,"x":2.728,"y":1.677},{"s":24,"x":2.892,"y":1.677},{"s":24,"x":2.907,"y":1.82},{"s":24,"x":2.922,"y":1.677},{"s":24,"x":3.465,"y":1.628},{"s":24,"x":3.48,"y":1.68},{"s":24,"x":3.495,"y":1.628},{"s":24,"x":3.52,"y":1.61},{"s":24,"x":3.545,"y":1.618},{"s":24,"x":3.56,"y":1.65},{"s":24,"x":3.575,"y":1.618},{"s":24,"x":3.6,"y":1.603},{"s":24,"x":4,"y":1.6}
]},
"data":{"name":"c"},
"encoding":{
"x":{"field":"x","type":"quantitative","scale":{"domain":[-2,4],"nice":false,"zero":false},"axis":null},
"y":{"field":"y","type":"quantitative","scale":{"domain":[1,10],"nice":false,"zero":false},"axis":null}
},
"layer":[
{"transform":[{"filter":"datum.s==1"}],"mark":{"type":"area","fill":"white","interpolate":"monotone"},"encoding":{"y2":{"datum":1}}},
{"transform":[{"filter":"datum.s==1"}],"mark":{"type":"line","stroke":"black","strokeWidth":1.1,"interpolate":"monotone"}},
{"transform":[{"filter":"datum.s==2"}],"mark":{"type":"area","fill":"white","interpolate":"monotone"},"encoding":{"y2":{"datum":1}}},
{"transform":[{"filter":"datum.s==2"}],"mark":{"type":"line","stroke":"black","strokeWidth":1.1,"interpolate":"monotone"}},
{"transform":[{"filter":"datum.s==3"}],"mark":{"type":"area","fill":"white","interpolate":"monotone"},"encoding":{"y2":{"datum":1}}},
{"transform":[{"filter":"datum.s==3"}],"mark":{"type":"line","stroke":"black","strokeWidth":1.1,"interpolate":"monotone"}},
{"transform":[{"filter":"datum.s==4"}],"mark":{"type":"area","fill":"white","interpolate":"monotone"},"encoding":{"y2":{"datum":1}}},
{"transform":[{"filter":"datum.s==4"}],"mark":{"type":"line","stroke":"black","strokeWidth":1.1,"interpolate":"monotone"}},
{"transform":[{"filter":"datum.s==5"}],"mark":{"type":"area","fill":"white","interpolate":"monotone"},"encoding":{"y2":{"datum":1}}},
{"transform":[{"filter":"datum.s==5"}],"mark":{"type":"line","stroke":"black","strokeWidth":1.1,"interpolate":"monotone"}},
{"transform":[{"filter":"datum.s==6"}],"mark":{"type":"area","fill":"white","interpolate":"monotone"},"encoding":{"y2":{"datum":1}}},
{"transform":[{"filter":"datum.s==6"}],"mark":{"type":"line","stroke":"black","strokeWidth":1.1,"interpolate":"monotone"}},
{"transform":[{"filter":"datum.s==7"}],"mark":{"type":"area","fill":"white","interpolate":"monotone"},"encoding":{"y2":{"datum":1}}},
{"transform":[{"filter":"datum.s==7"}],"mark":{"type":"line","stroke":"black","strokeWidth":1.1,"interpolate":"monotone"}},
{"transform":[{"filter":"datum.s==8"}],"mark":{"type":"area","fill":"white","interpolate":"monotone"},"encoding":{"y2":{"datum":1}}},
{"transform":[{"filter":"datum.s==8"}],"mark":{"type":"line","stroke":"black","strokeWidth":1.1,"interpolate":"monotone"}},
{"transform":[{"filter":"datum.s==9"}],"mark":{"type":"area","fill":"white","interpolate":"monotone"},"encoding":{"y2":{"datum":1}}},
{"transform":[{"filter":"datum.s==9"}],"mark":{"type":"line","stroke":"black","strokeWidth":1.1,"interpolate":"monotone"}},
{"transform":[{"filter":"datum.s==10"}],"mark":{"type":"area","fill":"white","interpolate":"monotone"},"encoding":{"y2":{"datum":1}}},
{"transform":[{"filter":"datum.s==10"}],"mark":{"type":"line","stroke":"black","strokeWidth":1.1,"interpolate":"monotone"}},
{"transform":[{"filter":"datum.s==11"}],"mark":{"type":"area","fill":"white","interpolate":"monotone"},"encoding":{"y2":{"datum":1}}},
{"transform":[{"filter":"datum.s==11"}],"mark":{"type":"line","stroke":"black","strokeWidth":1.1,"interpolate":"monotone"}},
{"transform":[{"filter":"datum.s==12"}],"mark":{"type":"area","fill":"white","interpolate":"monotone"},"encoding":{"y2":{"datum":1}}},
{"transform":[{"filter":"datum.s==12"}],"mark":{"type":"line","stroke":"black","strokeWidth":1.1,"interpolate":"monotone"}},
{"transform":[{"filter":"datum.s==13"}],"mark":{"type":"area","fill":"white","interpolate":"monotone"},"encoding":{"y2":{"datum":1}}},
{"transform":[{"filter":"datum.s==13"}],"mark":{"type":"line","stroke":"black","strokeWidth":1.1,"interpolate":"monotone"}},
{"transform":[{"filter":"datum.s==14"}],"mark":{"type":"area","fill":"white","interpolate":"monotone"},"encoding":{"y2":{"datum":1}}},
{"transform":[{"filter":"datum.s==14"}],"mark":{"type":"line","stroke":"black","strokeWidth":1.1,"interpolate":"monotone"}},
{"transform":[{"filter":"datum.s==15"}],"mark":{"type":"area","fill":"white","interpolate":"monotone"},"encoding":{"y2":{"datum":1}}},
{"transform":[{"filter":"datum.s==15"}],"mark":{"type":"line","stroke":"black","strokeWidth":1.1,"interpolate":"monotone"}},
{"transform":[{"filter":"datum.s==16"}],"mark":{"type":"area","fill":"white","interpolate":"monotone"},"encoding":{"y2":{"datum":1}}},
{"transform":[{"filter":"datum.s==16"}],"mark":{"type":"line","stroke":"black","strokeWidth":1.1,"interpolate":"monotone"}},
{"transform":[{"filter":"datum.s==17"}],"mark":{"type":"area","fill":"white","interpolate":"monotone"},"encoding":{"y2":{"datum":1}}},
{"transform":[{"filter":"datum.s==17"}],"mark":{"type":"line","stroke":"black","strokeWidth":1.1,"interpolate":"monotone"}},
{"transform":[{"filter":"datum.s==18"}],"mark":{"type":"area","fill":"white","interpolate":"monotone"},"encoding":{"y2":{"datum":1}}},
{"transform":[{"filter":"datum.s==18"}],"mark":{"type":"line","stroke":"black","strokeWidth":1.1,"interpolate":"monotone"}},
{"transform":[{"filter":"datum.s==19"}],"mark":{"type":"area","fill":"white","interpolate":"monotone"},"encoding":{"y2":{"datum":1}}},
{"transform":[{"filter":"datum.s==19"}],"mark":{"type":"line","stroke":"black","strokeWidth":1.1,"interpolate":"monotone"}},
{"transform":[{"filter":"datum.s==20"}],"mark":{"type":"area","fill":"white","interpolate":"monotone"},"encoding":{"y2":{"datum":1}}},
{"transform":[{"filter":"datum.s==20"}],"mark":{"type":"line","stroke":"black","strokeWidth":1.1,"interpolate":"monotone"}},
{"transform":[{"filter":"datum.s==21"}],"mark":{"type":"area","fill":"white","interpolate":"monotone"},"encoding":{"y2":{"datum":1}}},
{"transform":[{"filter":"datum.s==21"}],"mark":{"type":"line","stroke":"black","strokeWidth":1.1,"interpolate":"monotone"}},
{"transform":[{"filter":"datum.s==22"}],"mark":{"type":"area","fill":"white","interpolate":"monotone"},"encoding":{"y2":{"datum":1}}},
{"transform":[{"filter":"datum.s==22"}],"mark":{"type":"line","stroke":"black","strokeWidth":1.1,"interpolate":"monotone"}},
{"transform":[{"filter":"datum.s==23"}],"mark":{"type":"area","fill":"white","interpolate":"monotone"},"encoding":{"y2":{"datum":1}}},
{"transform":[{"filter":"datum.s==23"}],"mark":{"type":"line","stroke":"black","strokeWidth":1.1,"interpolate":"monotone"}},
{"transform":[{"filter":"datum.s==24"}],"mark":{"type":"area","fill":"white","interpolate":"monotone"},"encoding":{"y2":{"datum":1}}},
{"transform":[{"filter":"datum.s==24"}],"mark":{"type":"line","stroke":"black","strokeWidth":1.1,"interpolate":"monotone"}},
{"data":{"values":[{"d":"a","x":-2,"y":5.56},{"d":"a","x":-1.39,"y":8},{"d":"b","x":0.84,"y":8},{"d":"b","x":4,"y":3.16}]},"mark":{"type":"line","stroke":"black","strokeWidth":1.1},"encoding":{"detail":{"field":"d"}}},
{"data":{"values":[{"x":-0.85,"x2":-0.6,"y":9.2},{"x":-0.133,"x2":0.09,"y":9.2}]},"mark":{"type":"rule","stroke":"black","strokeWidth":3},"encoding":{"x2":{"field":"x2"}}},
{"data":{"values":[{"x":-0.889,"y":9.2}]},"mark":{"type":"point","shape":"M-1,0L1,-0.65L1,0.65Z","filled":true,"size":529,"color":"black","opacity":1}},
{"data":{"values":[{"x":0.156,"y":9.2}]},"mark":{"type":"point","shape":"M1,0L-1,-0.65L-1,0.65Z","filled":true,"size":529,"color":"black","opacity":1}},
{"data":{"values":[{"x":-0.358,"y":9.32,"t":"U"}]},"mark":{"type":"text","font":"Liberation Serif","fontStyle":"italic","fontSize":33,"align":"center","baseline":"middle","color":"black"},"encoding":{"text":{"field":"t"}}},
{"data":{"values":[{"x":3.093,"y":9.49,"t":"N=10"}]},"mark":{"type":"text","font":"Liberation Sans","fontSize":18,"align":"right","baseline":"middle","color":"black"},"encoding":{"text":{"field":"t"}}},
{"data":{"values":[{"x":3.156,"x2":3.81,"y":9.49}]},"mark":{"type":"rule","stroke":"black","strokeWidth":1},"encoding":{"x2":{"field":"x2"}}},
{"data":{"values":[{"x":-2,"x2":4,"y":1,"y2":10}]},"mark":{"type":"rect","filled":false,"stroke":"black","strokeWidth":1.8},"encoding":{"x2":{"field":"x2"},"y2":{"field":"y2"}}},
{"data":{"values":[{"x":0,"y":5}]},"mark":{"type":"point","opacity":0},"encoding":{
"x":{"field":"x","type":"quantitative","scale":{"domain":[-2,4],"nice":false,"zero":false},"axis":{"orient":"bottom","values":[-2,-1,0,1,2,3,4],"tickSize":-10,"labelPadding":24,"labelExpr":"datum.value + ''","labelFlush":false,"labelOverlap":false,"title":"BINDING ENERGY \u00a0(Ry)","titleX":384,"titleY":65,"titleBaseline":"alphabetic","titleAlign":"center"}},
"y":{"field":"y","type":"quantitative","scale":{"domain":[1,10],"nice":false,"zero":false},"axis":{"orient":"left","values":[2,4,6,8],"tickSize":-10,"labelPadding":21,"labelExpr":"datum.value + ''","title":"INTERATOMIC DIST. \u00a0(a.u.)","titleX":-52,"titleY":208,"titleAngle":270,"titleBaseline":"alphabetic","titleAlign":"center"}}}},
{"data":{"values":[{"x":0,"y":5}]},"mark":{"type":"point","opacity":0},"encoding":{
"x":{"field":"x","type":"quantitative","scale":{"domain":[-2,4],"nice":false,"zero":false},"axis":{"orient":"bottom","values":[-1.5,-0.5,0.5,1.5,2.5,3.5],"tickSize":-5,"labels":false,"title":null}},
"y":{"field":"y","type":"quantitative","scale":{"domain":[1,10],"nice":false,"zero":false},"axis":{"orient":"left","values":[3,5,7],"tickSize":-6,"labels":false,"title":null}}}},
{"data":{"values":[{"x":0,"y":5}]},"mark":{"type":"point","opacity":0},"encoding":{
"x":{"field":"x","type":"quantitative","scale":{"domain":[-2,4],"nice":false,"zero":false},"axis":{"orient":"top","values":[-2,-1,0,1,2,3,4],"tickSize":-10,"labels":false,"title":null}},
"y":{"field":"y","type":"quantitative","scale":{"domain":[1,10],"nice":false,"zero":false},"axis":{"orient":"right","values":[2,4,6,8],"tickSize":-10,"labels":false,"title":"DOS \u00a0(arb. units)","titleX":24,"titleY":181,"titleAngle":270,"titleBaseline":"alphabetic","titleAlign":"center"}}}},
{"data":{"values":[{"x":0,"y":5}]},"mark":{"type":"point","opacity":0},"encoding":{
"x":{"field":"x","type":"quantitative","scale":{"domain":[-2,4],"nice":false,"zero":false},"axis":{"orient":"top","values":[-1.5,-0.5,0.5,1.5,2.5,3.5],"tickSize":-5,"labels":false,"title":null}},
"y":{"field":"y","type":"quantitative","scale":{"domain":[1,10],"nice":false,"zero":false},"axis":{"orient":"right","values":[3,5,7],"tickSize":-6,"labels":false,"title":null}}}}
],
"resolve":{"axis":{"x":"independent","y":"independent"}}
}
